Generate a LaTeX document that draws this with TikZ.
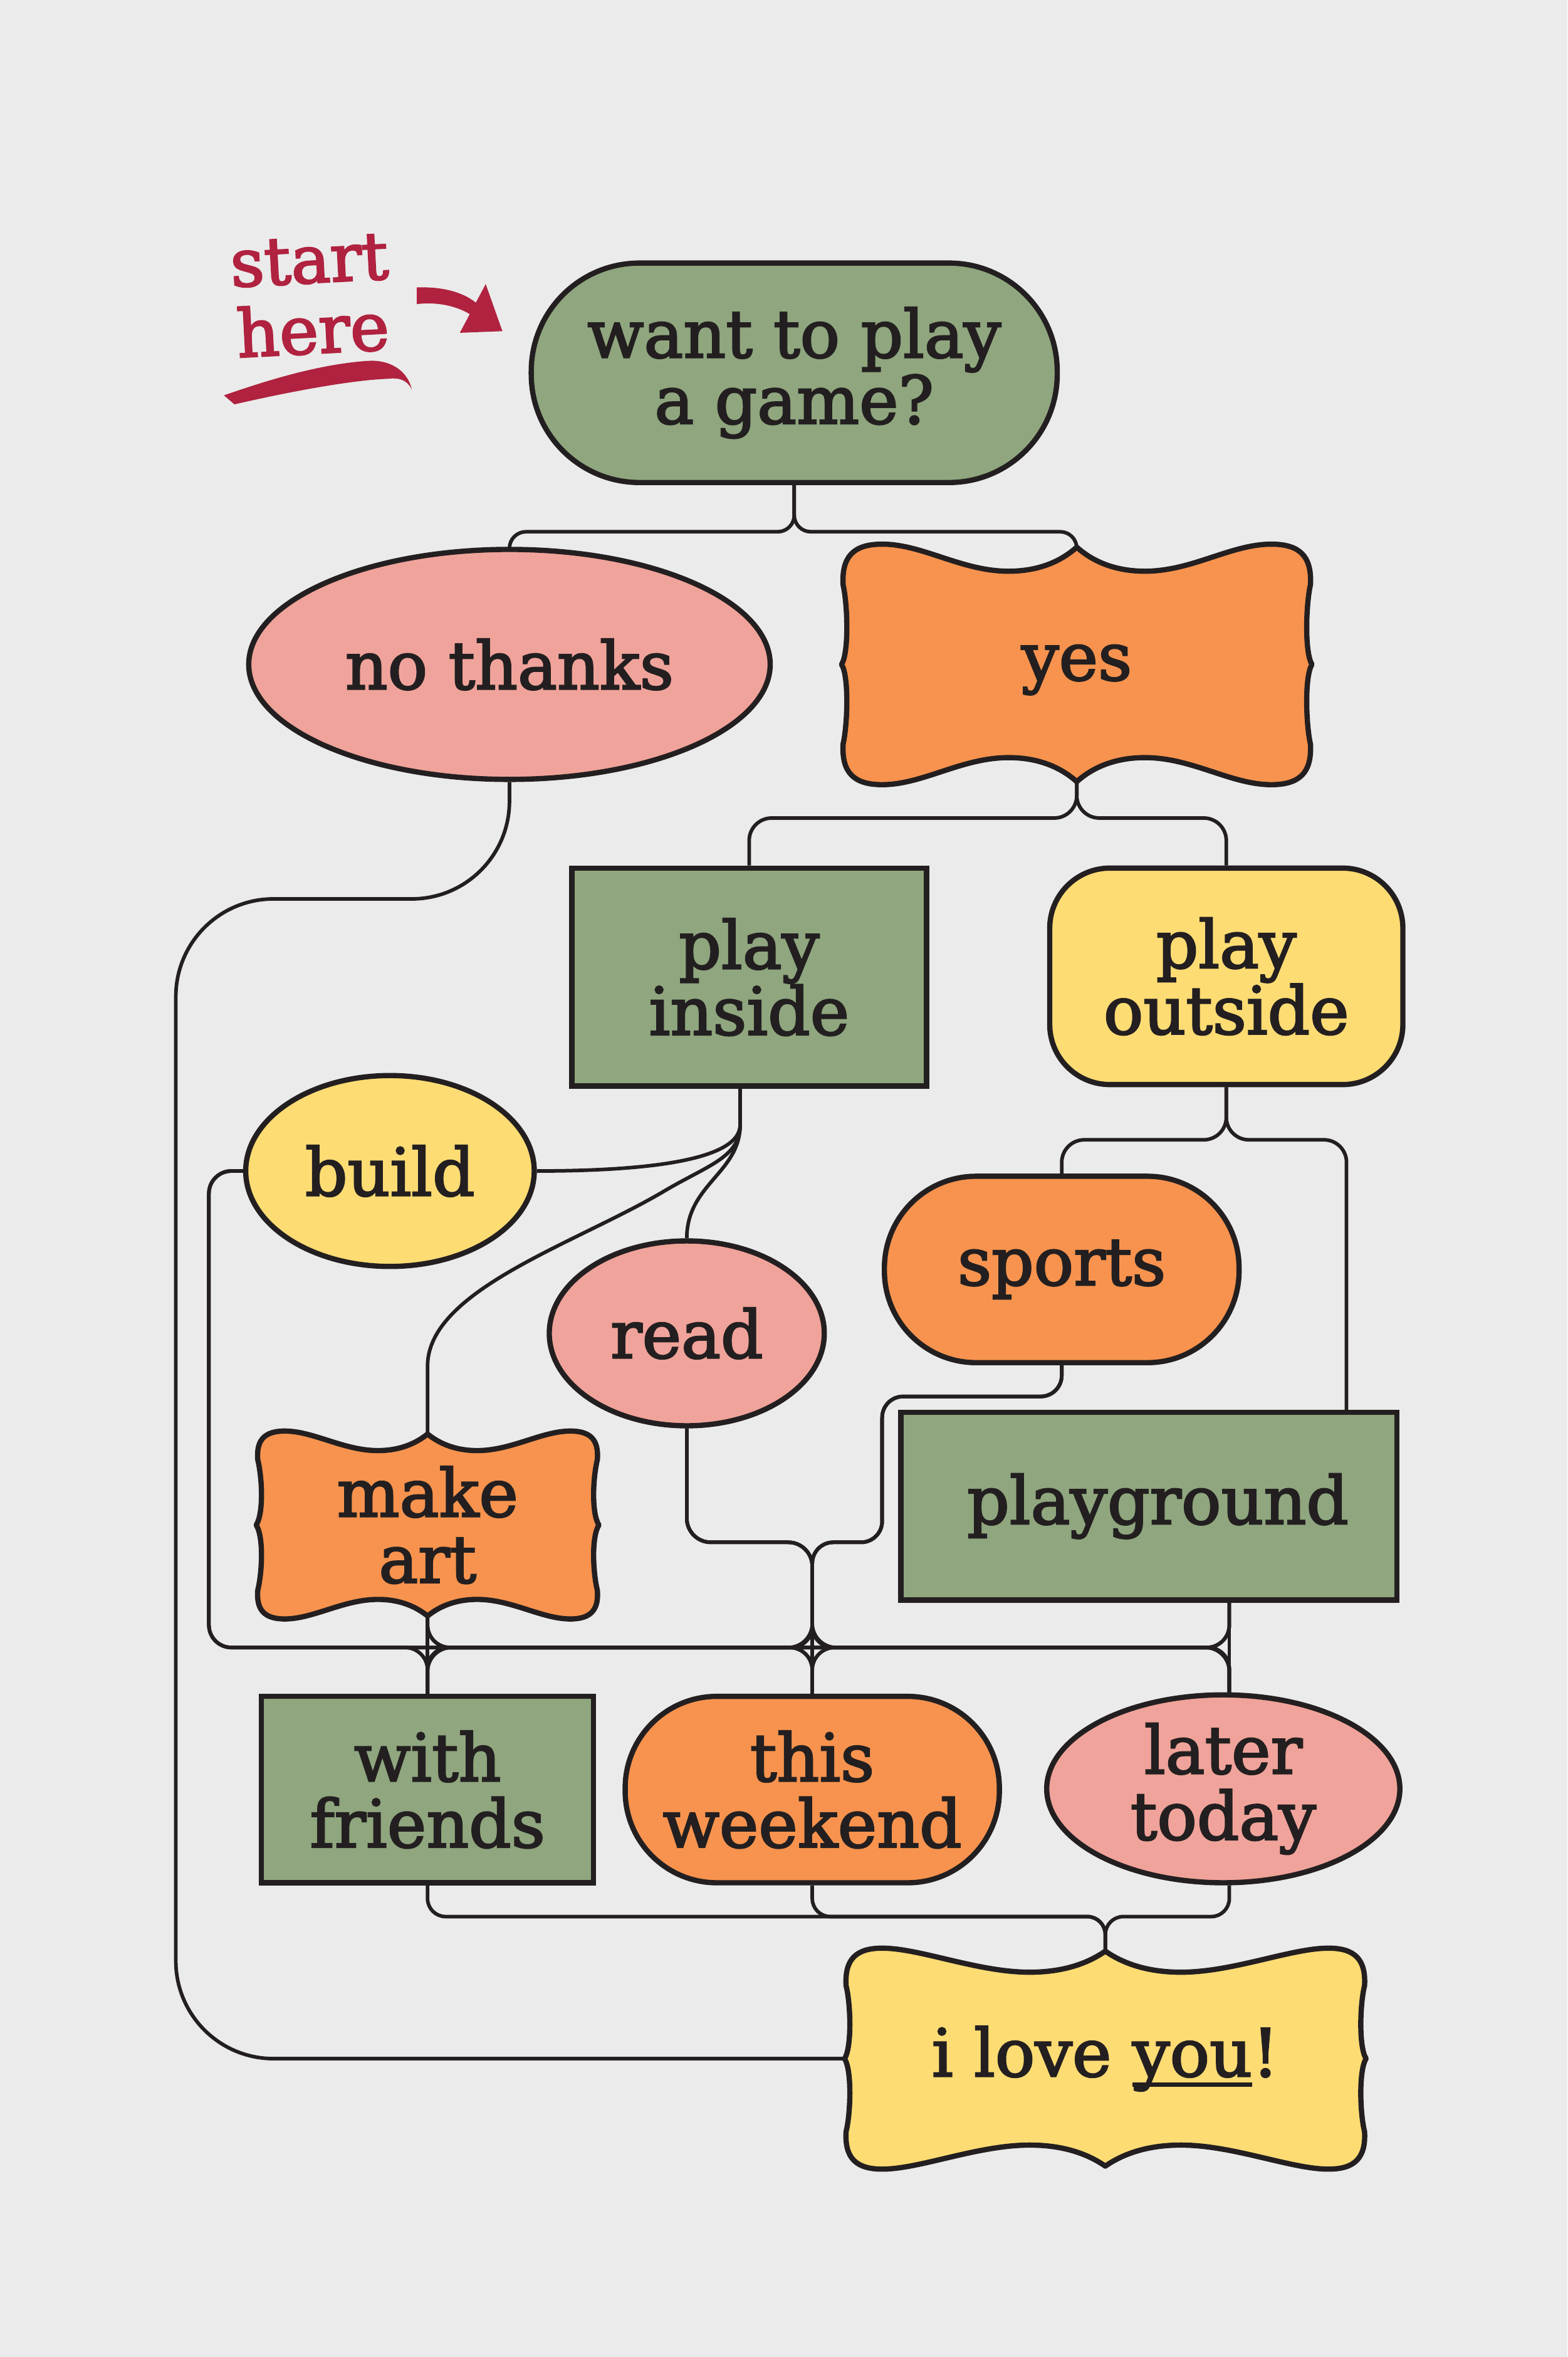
\documentclass[tikz,border=0pt]{standalone}
\usepackage{fontspec}
\setmainfont{DejaVu Serif}
\newfontfamily\heavyfont{DejaVu Serif}[FakeBold=2.5]
\usetikzlibrary{shapes.geometric,calc}
\pgfdeclarelayer{bglayer}
\pgfdeclarelayer{lines}
\pgfdeclarelayer{shapes}
\pgfsetlayers{bglayer,lines,shapes,main}
\definecolor{paper}{HTML}{EBEBEB}
\definecolor{ink}{HTML}{231F20}
\definecolor{sage}{HTML}{8FA67E}
\definecolor{salmon}{HTML}{F0A39A}
\definecolor{tangerine}{HTML}{F7934E}
\definecolor{butter}{HTML}{FDDC74}
\definecolor{berry}{HTML}{B0223F}
\newcommand\nodefont{\heavyfont\fontsize{44}{44}\selectfont}
\newcommand\ulword[1]{\setbox0\hbox{#1}\rlap{\rule[-7pt]{\wd0}{3pt}}#1}
\newcommand\bannerpath[6]{%
 \pgfmathsetmacro\bnW{#2}\pgfmathsetmacro\bnH{#3}\pgfmathsetmacro\bnD{#4}\pgfmathsetmacro\bnR{#5}%
 \pgfmathsetmacro\bnT{0.29*\bnW}\pgfmathsetmacro\bnA{0.2*\bnW}\pgfmathsetmacro\bnB{0.15*\bnW}\pgfmathsetmacro\bnC{0.05*\bnW}%
 \begin{pgfonlayer}{shapes}
 \begin{scope}[shift={(#1.center)}]
 \path[bannerline, fill=#6]
 (-\bnW,0)
 .. controls ({-\bnW+5},-8) and ({-\bnW+4},{-0.5*\bnH}) .. ({-\bnW+1},{-\bnH+\bnR})
 .. controls ({-\bnW},{-\bnH+0.3*\bnR}) and ({-\bnW+0.3*\bnR},{-\bnH}) .. ({-\bnW+\bnR},{-\bnH})
 .. controls ({-\bnW+2*\bnR},{-\bnH}) and ({-\bnT-\bnA},{-\bnH+\bnD}) .. ({-\bnT},{-\bnH+\bnD})
 .. controls ({-\bnT+\bnB},{-\bnH+\bnD}) and ({-\bnC},{-\bnH+0.5*\bnD}) .. (0,{-\bnH+2})
 .. controls (\bnC,{-\bnH+0.5*\bnD}) and ({\bnT-\bnB},{-\bnH+\bnD}) .. (\bnT,{-\bnH+\bnD})
 .. controls ({\bnT+\bnA},{-\bnH+\bnD}) and ({\bnW-2*\bnR},{-\bnH}) .. ({\bnW-\bnR},{-\bnH})
 .. controls ({\bnW-0.3*\bnR},{-\bnH}) and (\bnW,{-\bnH+0.3*\bnR}) .. ({\bnW-1},{-\bnH+\bnR})
 .. controls ({\bnW-4},{-0.5*\bnH}) and ({\bnW-5},-8) .. (\bnW,0)
 .. controls ({\bnW-5},8) and ({\bnW-4},{0.5*\bnH}) .. ({\bnW-1},{\bnH-\bnR})
 .. controls (\bnW,{\bnH-0.3*\bnR}) and ({\bnW-0.3*\bnR},\bnH) .. ({\bnW-\bnR},\bnH)
 .. controls ({\bnW-2*\bnR},\bnH) and ({\bnT+\bnA},{\bnH-\bnD}) .. (\bnT,{\bnH-\bnD})
 .. controls ({\bnT-\bnB},{\bnH-\bnD}) and (\bnC,{\bnH-0.5*\bnD}) .. (0,{\bnH-2})
 .. controls ({-\bnC},{\bnH-0.5*\bnD}) and ({-\bnT+\bnB},{\bnH-\bnD}) .. ({-\bnT},{\bnH-\bnD})
 .. controls ({-\bnT-\bnA},{\bnH-\bnD}) and ({-\bnW+2*\bnR},\bnH) .. ({-\bnW+\bnR},\bnH)
 .. controls ({-\bnW+0.3*\bnR},\bnH) and (-\bnW,{\bnH-0.3*\bnR}) .. ({-\bnW+1},{\bnH-\bnR})
 .. controls ({-\bnW+4},{0.5*\bnH}) and ({-\bnW+5},8) .. (-\bnW,0) -- cycle;
 \end{scope}
 \end{pgfonlayer}}
\tikzset{
 nodebase/.style={draw=ink, line width=3.5pt, text=ink, font=\nodefont, align=center, inner sep=0pt},
 bannertext/.style={shape=rectangle, text=ink, font=\nodefont, align=center, inner sep=0pt},
 bannerline/.style={draw=ink, line width=3.5pt, line join=round},
 conn/.style={draw=ink, line width=2.4pt, rounded corners=15pt},
}
\begin{document}
\begin{tikzpicture}[x=1pt, y=-1pt]
\begin{pgfonlayer}{bglayer}
\fill[paper] (0,0) rectangle (1043,1568);
\end{pgfonlayer}
\useasboundingbox (0,0) rectangle (1043,1568);

% nodes
\node[nodebase, fill=sage, rounded corners=72pt, minimum width=350pt, minimum height=146pt] (game) at (528.5,248) {want to play\\a game?};
\node[nodebase, ellipse, fill=salmon, minimum width=347pt, minimum height=153pt] (nothanks) at (339,442) {no thanks};
\node[bannertext, text height=27pt, text depth=6pt, minimum width=313pt, minimum height=156pt] (yes) at (716.5,442) {yes};
\node[nodebase, fill=sage, minimum width=236pt, minimum height=145pt] (playinside) at (498.5,650) {play\\inside};
\node[nodebase, fill=butter, rounded corners=40pt, minimum width=235pt, minimum height=144pt] (playoutside) at (816,649.5) {play\\outside};
\node[nodebase, ellipse, fill=butter, minimum width=192pt, minimum height=127pt] (build) at (259.5,779) {build};
\node[nodebase, ellipse, fill=salmon, minimum width=183pt, minimum height=123pt] (read) at (457,887) {read};
\node[nodebase, fill=tangerine, rounded corners=61pt, minimum width=236pt, minimum height=124pt] (sports) at (706.5,844.5) {sports};
\node[bannertext, minimum width=228pt, minimum height=121pt] (makeart) at (284.5,1014.5) {make\\art};
\node[nodebase, fill=sage, minimum width=330pt, minimum height=125pt] (playground) at (764.5,1002) {\hspace*{12pt}playground};
\node[nodebase, fill=sage, minimum width=221pt, minimum height=124pt] (withfriends) at (284.5,1190.5) {with\\friends};
\node[nodebase, fill=tangerine, rounded corners=61pt, minimum width=249pt, minimum height=124pt] (thisweekend) at (540.5,1190.5) {this\\weekend};
\node[nodebase, ellipse, fill=salmon, inner sep=-8pt, minimum width=235pt, minimum height=125pt] (latertoday) at (814,1190) {later\\today};
\node[bannertext, minimum width=347pt, minimum height=143pt] (iloveyou) at (735.5,1369.5) {i love \ulword{you}!};

\bannerpath{yes}{156.5}{80}{18}{27}{tangerine}
\bannerpath{makeart}{114}{62.5}{13}{19}{tangerine}
\bannerpath{iloveyou}{173.5}{73.5}{16}{25}{butter}

% start here
\node[font=\heavyfont\fontsize{44}{47}\selectfont, text=berry, rotate=3, align=center, inner sep=0pt] (starthere) at (207,197) {start\\here};
\fill[berry] (277.4,191.2) .. controls (298,190.5) and (312,196) .. (320,204.4) -- (318,213) .. controls (308,204) and (292,200.5) .. (277.4,202.3) -- cycle;
\fill[berry] (323.2,189) -- (334.3,220.3) -- (306,221.4) -- cycle;
\fill[berry] (149,263) .. controls (175,254) and (212,242) .. (246,240) .. controls (259,239.5) and (271,246) .. (274,259) .. controls (271,253) and (266,251) .. (258,252) .. controls (230,253) and (182,263) .. (156,269) -- cycle;

% connectors
\begin{pgfonlayer}{lines}
\coordinate (busy) at (0,1096);
\coordinate (rdh) at (0,1026);
\coordinate (sph) at (0,929);
\coordinate (spv) at (587,0);
\coordinate (railtop) at (117,598);
\coordinate (buildrail) at (139,0);
\coordinate (boty) at (0,1275);
\coordinate (pib) at ($(playinside.south)+(-6,0)$);
\coordinate (pgb) at (818,1065);
\coordinate (pgt) at (896,939);

\draw[conn, rounded corners=11pt] (game.south) -- ++(0,31) -| (nothanks.north);
\draw[conn, rounded corners=11pt] (game.south) -- ++(0,31) -| (yes.north);
\draw[conn] (yes.south) -- ++(0,24) -| (playinside.north);
\draw[conn] (yes.south) -- ++(0,24) -| (playoutside.north);
\draw[conn] (playoutside.south) -- ++(0,35) -| (sports.north);
\draw[conn] (playoutside.south) -- ++(0,35) -| (pgt);

\draw[conn, sharp corners] (pib) -- ++(0,24) .. controls +(0,26) and +(60,0) .. (build.east);
\draw[conn, sharp corners] (pib) -- ++(0,24) .. controls +(0,32) and +(0,-36) .. (read.north);
\draw[conn, sharp corners] (pib) -- ++(0,24) .. controls +(0,22) and +(30,-18) .. ++(-52,45) .. controls +(-60,35) and +(0,-50) .. ($(makeart.north)+(0,-45)$) -- (makeart.north);

\draw[conn, rounded corners=65pt] (nothanks.south) |- (railtop) -- (railtop |- iloveyou.west) -- (iloveyou.west);

\draw[conn] (build.west) -| (buildrail |- busy) -| (withfriends.north);
\draw[conn] (build.west) -| (buildrail |- busy) -| (thisweekend.north);
\draw[conn] (build.west) -| (buildrail |- busy) -| (pgb |- latertoday.north);

\draw[conn] (makeart.south) -- (makeart.south |- withfriends.north);
\draw[conn] (makeart.south) -- (makeart.south |- busy) -| (thisweekend.north);
\draw[conn] (makeart.south) -- (makeart.south |- busy) -| (pgb |- latertoday.north);

\draw[conn, rounded corners=16pt] (read.south) |- (rdh -| thisweekend.north) -- (thisweekend.north);
\draw[conn, rounded corners=16pt] (read.south) |- (rdh -| thisweekend.north) -- (thisweekend.north |- busy) -| (withfriends.north);
\draw[conn, rounded corners=16pt] (read.south) |- (rdh -| thisweekend.north) -- (thisweekend.north |- busy) -| (pgb |- latertoday.north);

\draw[conn, rounded corners=14pt] (sports.south) |- (spv |- sph) -- (spv |- rdh) -| (thisweekend.north);
\draw[conn, rounded corners=14pt] (sports.south) |- (spv |- sph) -- (spv |- rdh) -| (thisweekend.north |- busy) -| (withfriends.north);
\draw[conn, rounded corners=14pt] (sports.south) |- (spv |- sph) -- (spv |- rdh) -| (thisweekend.north |- busy) -| (pgb |- latertoday.north);

\draw[conn] (pgb) -- (pgb |- latertoday.north);
\draw[conn] (pgb) -- (pgb |- busy) -| (thisweekend.north);
\draw[conn] (pgb) -- (pgb |- busy) -| (withfriends.north);

\draw[conn, rounded corners=12pt] (withfriends.south) |- (boty -| iloveyou.north) -- (iloveyou.north);
\draw[conn, rounded corners=12pt] (thisweekend.south) |- (boty -| iloveyou.north) -- (iloveyou.north);
\draw[conn, rounded corners=12pt] (pgb |- latertoday.south) |- (boty -| iloveyou.north) -- (iloveyou.north);
\end{pgfonlayer}
\end{tikzpicture}
\end{document}
